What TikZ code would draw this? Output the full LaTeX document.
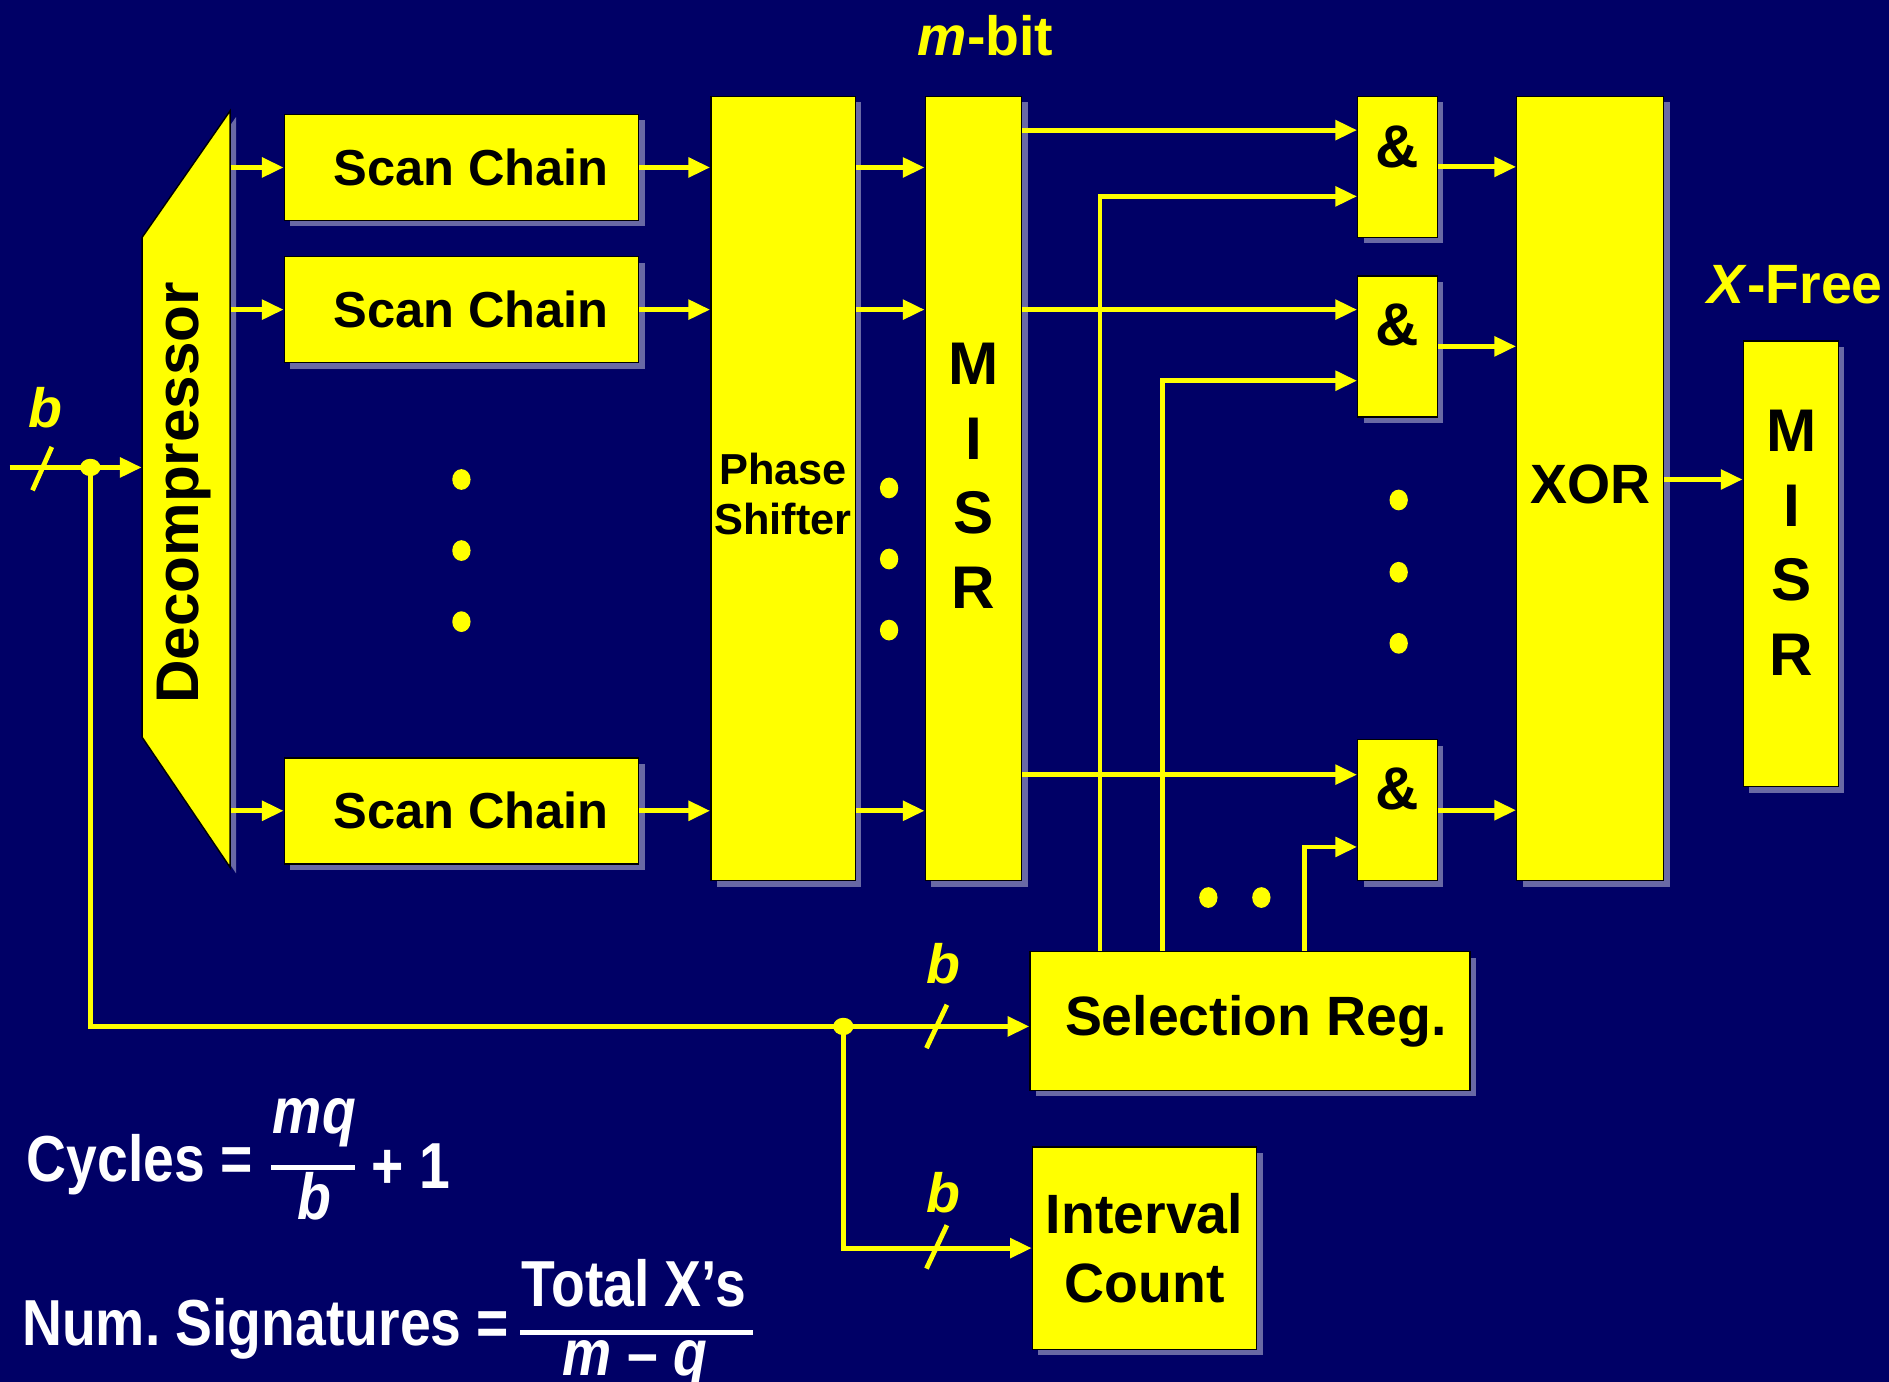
\documentclass[tikz,border=0pt]{standalone}
\usepackage{graphicx}
\usepackage{fontspec}
\setmainfont{Liberation Sans}
\usetikzlibrary{arrows.meta,shadows}
\definecolor{navy}{RGB}{0,0,102}
\definecolor{ylw}{RGB}{255,255,0}
\definecolor{shd}{RGB}{105,105,165}
\tikzset{
  box/.style={draw=black, line width=0.6pt, fill=ylw, inner sep=0pt, text=black,
    drop shadow={shadow xshift=2.5pt, shadow yshift=-2.5pt, fill=shd, opacity=1}},
  arr/.style={draw=ylw, line width=2pt, -{Triangle[length=9pt,width=8pt]}},
  ln/.style={draw=ylw, line width=2pt},
  lbl/.style={text=ylw, inner sep=0pt, font=\fontsize{23}{27}\selectfont\bfseries},
  blk/.style={text=black, inner sep=0pt, align=center},
  form/.style={text=white, inner sep=0pt, font=\fontsize{27}{32}\selectfont\bfseries},
}
\begin{document}
\begin{tikzpicture}[x=0.5pt,y=-0.5pt]
\fill[navy] (0,0) rectangle (1568,1147);
\useasboundingbox (0,0) rectangle (1568,1147);

% Decompressor
\fill[shd] (123,202)--(196,97)--(196,725)--(123,617)--cycle;
\filldraw[fill=ylw, draw=black, line width=0.6pt] (118,197)--(191,92)--(191,720)--(118,612)--cycle;
\node[inner sep=0pt, minimum width=36.5pt, minimum height=314pt] (dec) at (154.5,406) {};
\node[blk, rotate=90, font=\fontsize{25}{30}\selectfont\bfseries] (dectxt) at (153,409) {Decompressor};

% Scan chains
\foreach \n/\y in {sc1/139, sc2/257, sc3/673}
  \node[box, minimum width=147pt, minimum height=44pt, font=\fontsize{21}{25}\selectfont\bfseries] (\n) at (383,\y) {\hspace*{8pt}Scan Chain};

% Phase shifter
\node[box, minimum width=60pt, minimum height=325.5pt] (ps) at (650,405.5) {};
\node[blk, font=\fontsize{18}{20.5}\selectfont\bfseries] (pst) at (650,410) {Phase\\Shifter};

% MISR 1
\node[box, minimum width=40pt, minimum height=325.5pt] (misr1) at (808,405.5) {};
\node[blk, font=\fontsize{25}{31}\selectfont\bfseries] (misr1t) at (808,395) {M\\I\\S\\R};

% AND gates
\node[box, minimum width=33pt, minimum height=58.5pt] (and1) at (1160,138.5) {};
\node[box, minimum width=33pt, minimum height=58.5pt] (and2) at (1160,287.5) {};
\node[box, minimum width=33pt, minimum height=58.5pt] (and3) at (1160,672.5) {};
\node[blk, font=\fontsize{25}{30}\selectfont\bfseries] (a1t) at (1160,122) {\&};
\node[blk, font=\fontsize{25}{30}\selectfont\bfseries] (a2t) at (1160,270) {\&};
\node[blk, font=\fontsize{25}{30}\selectfont\bfseries] (a3t) at (1160,655) {\&};

% XOR
\node[box, minimum width=61pt, minimum height=325.5pt] (xor) at (1320,405.5) {};
\node[blk, font=\fontsize{23}{28}\selectfont\bfseries] (xort) at (1320,402) {XOR};

% MISR 2
\node[box, minimum width=39.5pt, minimum height=185pt] (misr2) at (1486.5,468) {};
\node[blk, font=\fontsize{25}{31}\selectfont\bfseries] (misr2t) at (1487,450.5) {M\\I\\S\\R};

% Selection Reg and Interval Count
\node[box, minimum width=182.5pt, minimum height=57.5pt, font=\fontsize{23}{28}\selectfont\bfseries] (sel) at (1037.5,847.5) {\hspace*{5pt}Selection Reg.};
\node[box, align=center, minimum width=93pt, minimum height=84pt, font=\fontsize{23}{28.5}\selectfont\bfseries] (ic) at (950,1036) {Interval\\Count};

% Labels
\node[lbl] (mbit) at (818,30) {\textit{m}-bit};
\node[lbl] (xfree) at (1490,236) {\textit{X}-Free};
\node[lbl] (b1) at (38,338) {\textit{b}};
\node[lbl] (b2) at (783,800) {\textit{b}};
\node[lbl] (b3) at (783,990) {\textit{b}};

% Dots
\foreach \x/\y in {383/398, 383/457, 383/516, 738/405, 738/464, 738/523, 1161/415, 1161/475, 1161/534, 1003/745, 1047/745}
  \fill[ylw] (\x,\y) ellipse [x radius=3.8pt, y radius=4.3pt];

% Input and bus lines
\coordinate (bin) at (8,388);
\coordinate (j1) at (75,388);
\coordinate (j2) at (700,852);
\draw[arr] (bin) -- (dec.west |- bin);
\draw[arr] (j1) |- (sel.west |- j2);
\draw[arr] (j2) |- (ic.west);
\fill[ylw] (j1) ellipse [x radius=4.2pt, y radius=3.6pt];
\fill[ylw] (j2) ellipse [x radius=4.2pt, y radius=3.6pt];
\draw[ln] (27,407) -- (43,371);
\draw[ln] (769,870) -- (786,834);
\draw[ln] (769,1053) -- (786,1017);

% Decompressor -> scan chains -> phase shifter -> MISR
\foreach \n in {sc1,sc2,sc3} {
  \draw[arr] (dec.east |- \n) -- (\n);
  \draw[arr] (\n) -- (ps.west |- \n);
  \draw[arr] (ps.east |- \n) -- (misr1.west |- \n);
}

% MISR -> AND
\draw[arr] (misr1.east |- 0,108) -- (and1.west |- 0,108);
\draw[arr] (misr1.east |- 0,257) -- (and2.west |- 0,257);
\draw[arr] (misr1.east |- 0,643) -- (and3.west |- 0,643);

% Selection Reg -> AND
\draw[arr] (sel.north -| 913,0) |- (and1.west |- 0,163);
\draw[arr] (sel.north -| 965,0) |- (and2.west |- 0,316);
\draw[arr] (sel.north -| 1083,0) |- (and3.west |- 0,703);

% AND -> XOR -> MISR2
\draw[arr] (and1) -- (xor.west |- and1);
\draw[arr] (and2) -- (xor.west |- and2);
\draw[arr] (and3) -- (xor.west |- and3);
\draw[arr] (xor.east |- 0,398) -- (misr2.west |- 0,398);

% Formulas
\node[form, anchor=west] (cyc) at (22,967) {\scalebox{0.85}[1]{Cycles =}};
\node[form] (cycn) at (261,932) {\scalebox{0.85}[1]{\textit{mq}}};
\node[form] (cycd) at (261,993) {\scalebox{0.85}[1]{\textit{b}}};
\draw[white, line width=2pt] (225,969) -- (295,969);
\node[form] (cycp) at (341,968) {\scalebox{0.85}[1]{+ 1}};

\node[form, anchor=west] (nsig) at (18,1103) {\scalebox{0.85}[1]{Num.\ Signatures =}};
\node[form] (nsn) at (526,1065) {\scalebox{0.85}[1]{Total X’s}};
\draw[white, line width=2pt] (432,1106) -- (625,1106);
\node[form] (nsd) at (527,1133) {\scalebox{0.85}[1]{\textit{m} – \textit{q}}};
\end{tikzpicture}
\end{document}
